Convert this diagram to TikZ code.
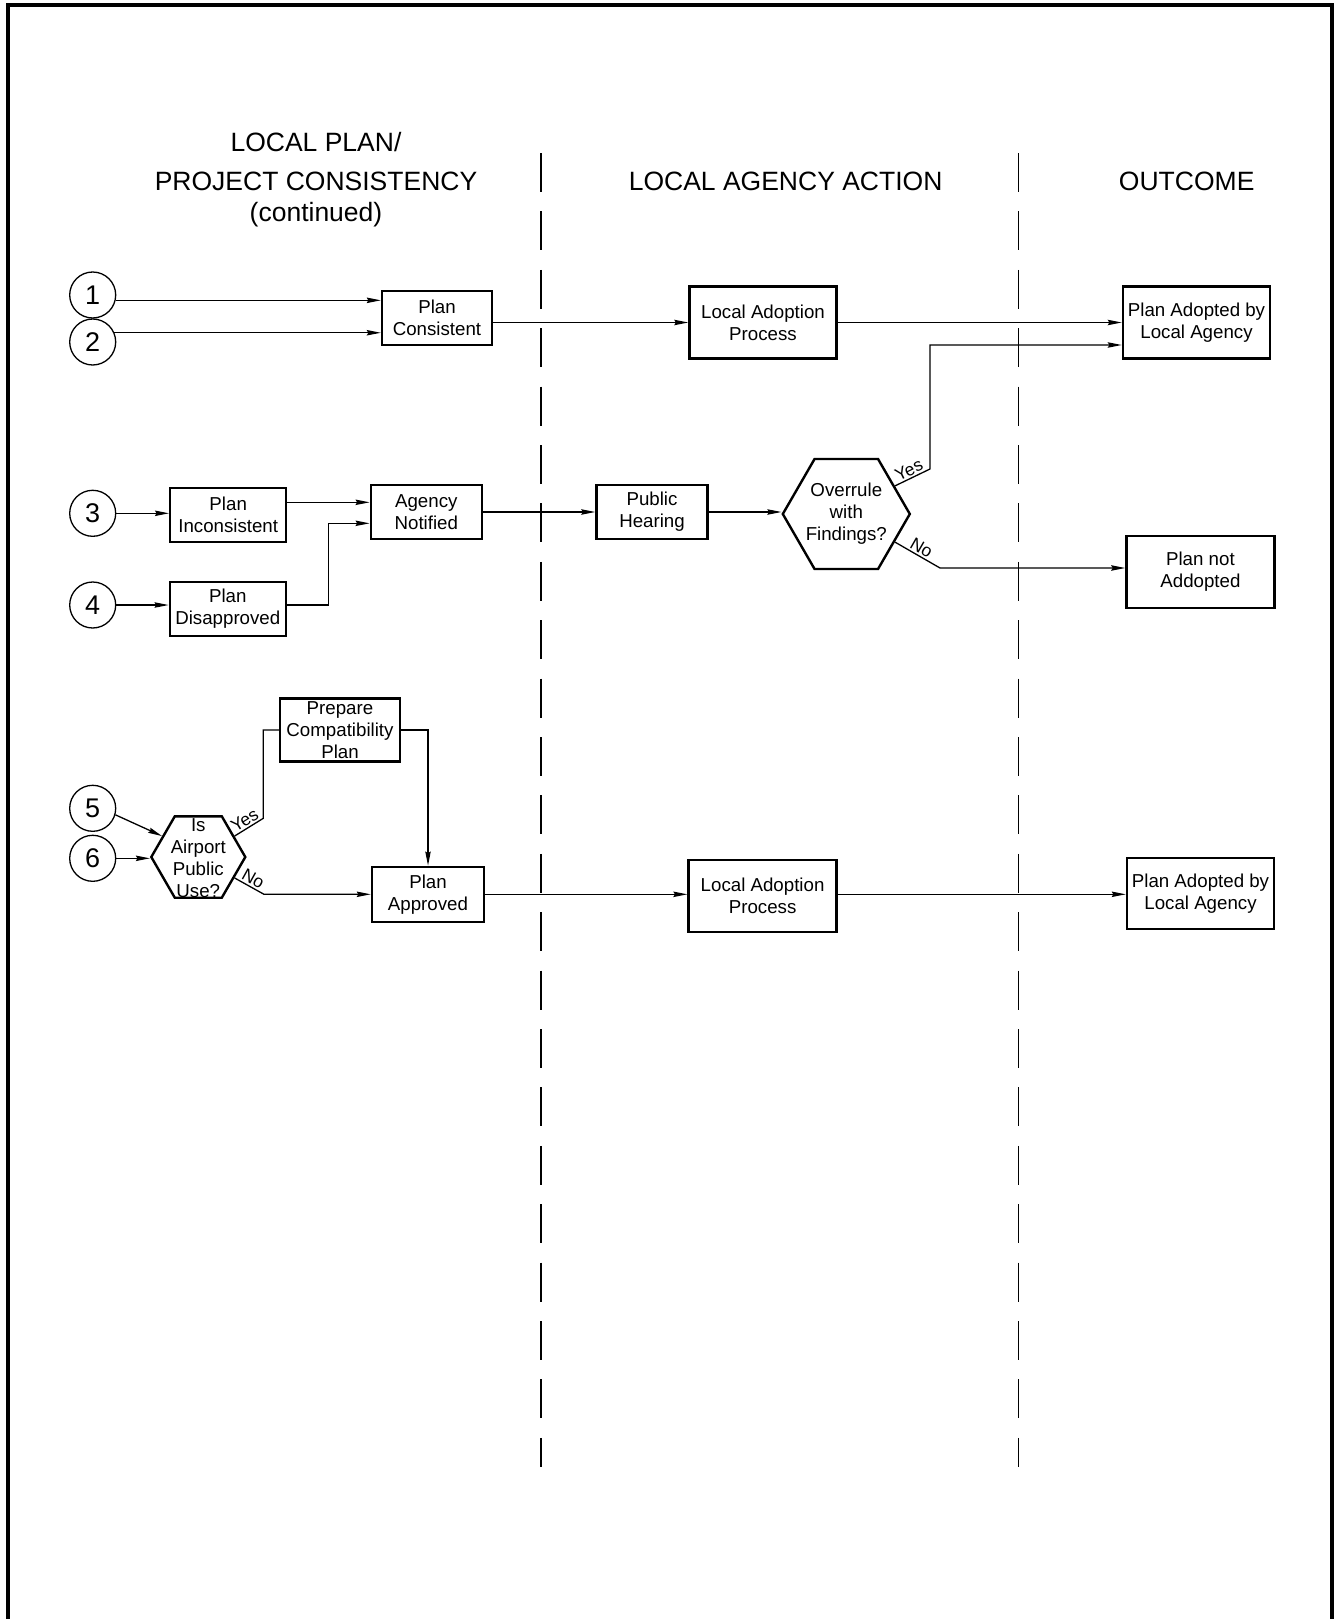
\documentclass[tikz,border=0pt]{standalone}
\usepackage{fontspec}
\setmainfont{Liberation Sans}
\usetikzlibrary{arrows.meta,shapes.geometric,calc}
\begin{document}
\begin{tikzpicture}[x=1pt,y=1pt,
  txt/.style={font=\fontsize{18.7}{22}\selectfont, align=center},
  box/.style={txt, draw, line width=2.4pt, inner sep=0pt},
  hexa/.style={draw, line width=2.4pt, regular polygon, regular polygon sides=6, inner sep=0pt},
  inp/.style={draw, circle, line width=1.3pt, minimum size=46pt, inner sep=0pt, font=\fontsize{27}{30}\selectfont},
  conn/.style={line width=1.3pt},
  arr/.style={conn, -{Stealth[length=14pt,width=5.4pt,inset=1.5pt]}},
  hdr/.style={font=\fontsize{26.5}{30}\selectfont, anchor=base, inner sep=0pt},
  lane/.style={line width=1.5pt, dash pattern=on 39pt off 19.4pt},
  lbl/.style={font=\fontsize{17.5}{20}\selectfont, inner sep=1.5pt, sloped, above, midway}
]
\useasboundingbox (0,0) rectangle (1343,-1619);
% frame
\draw[line width=4pt] (8,-1640) -- (8,-5.5) -- (1332,-5.5) -- (1332,-1640);

% headers
\node[hdr] (h1a) at (316,-151) {LOCAL PLAN/};
\node[hdr] (h1b) at (316,-190) {PROJECT CONSISTENCY};
\node[hdr] (h1c) at (316,-221) {(continued)};
\node[hdr] (h2) at (785.6,-190) {LOCAL AGENCY ACTION};
\node[hdr] (h3) at (1186.7,-190) {OUTCOME};

% lanes
\draw[lane] (541,-153) -- (541,-1467);
\draw[lane] (1018.7,-153) -- (1018.7,-1467);

% input circles
\node[inp] (c1) at (92.7,-295) {1};
\node[inp] (c2) at (92.7,-342) {2};
\node[inp] (c3) at (92.7,-513.3) {3};
\node[inp] (c4) at (92.7,-605) {4};
\node[inp] (c5) at (92.7,-808.3) {5};
\node[inp] (c6) at (92.7,-858.3) {6};

% boxes
\node[box, minimum width=110pt, minimum height=54pt] (pc) at (437,-318) {Plan\\Consistent};
\node[box, minimum width=147pt, minimum height=72pt] (lap1) at (763,-322.5) {Local Adoption\\Process};
\node[box, minimum width=147pt, minimum height=72pt] (pa1) at (1196.5,-322.5) {Plan Adopted by\\Local Agency};
\node[box, minimum width=116pt, minimum height=54pt] (pi) at (228.2,-515) {Plan\\Inconsistent};
\node[box, minimum width=116pt, minimum height=54pt] (pd) at (227.8,-609) {Plan\\Disapproved};
\node[box, minimum width=111pt, minimum height=54pt] (an) at (426.3,-512) {Agency\\Notified};
\node[box, minimum width=111pt, minimum height=54pt] (ph) at (652,-512) {Public\\Hearing};
\node[hexa, minimum size=127pt] (ov) at (846.3,-514) {};
\node[txt] (ovt) at (ov.center) {Overrule\\with\\Findings?};
\node[box, minimum width=148pt, minimum height=72pt] (pna) at (1200.4,-572) {Plan not\\Addopted};
\node[box, minimum width=120pt, minimum height=63pt] (pcp) at (340,-730) {Prepare\\Compatibility\\Plan};
\node[hexa, minimum size=94pt] (hx) at (198.3,-857) {};
\node[txt] (hxt) at ([yshift=-1pt]hx.center) {Is\\Airport\\Public\\Use?};
\node[box, minimum width=112pt, minimum height=55pt] (pap) at (428,-894.3) {Plan\\Approved};
\node[box, minimum width=148pt, minimum height=72pt] (lap2) at (762.6,-896) {Local Adoption\\Process};
\node[box, minimum width=147pt, minimum height=71pt] (pa2) at (1200.5,-893.5) {Plan Adopted by\\Local Agency};

% row 1
\draw[arr] (c1.-13) -- (c1.-13 -| pc.west);
\draw[arr] (c2.23) -- (c2.23 -| pc.west);
\draw[arr] (pc.east |- lap1.west) -- (lap1.west);
\draw[arr] (lap1.east) -- (pa1.west);

% row 2
\draw[arr] (c3.east) -- (c3.east -| pi.west);
\draw[arr] (c4.east) -- (c4.east -| pd.west);
\draw[arr] ([yshift=12.7pt]pi.east) -- ([yshift=12.7pt]pi.east -| an.west);
\coordinate (j4) at (328.3,-523.3);
\draw[arr] (c4.east -| pd.east) -| (j4) -- (j4 -| an.west);
\draw[arr] (an.east) -- (ph.west);
\draw[arr] (ph.east) -- (ph.east -| ov.west);
\coordinate (oy) at (930,-469);
\draw[arr] (ov.30) -- node[lbl]{Yes} (oy) |- ([yshift=-22.5pt]pa1.west);
\coordinate (on) at (940,-568);
\draw[arr] (ov.-30) -- node[lbl]{No} (on) -- (on -| pna.west);

% row 3
\draw[arr] (c5.-16) -- (hx.150);
\draw[arr] (c6.east) -- (c6.east -| hx.west);
\coordinate (hy) at (263.3,-818.3);
\draw[conn] (hx.30) -- node[lbl]{Yes} (hy) |- (pcp.west);
\draw[arr] (pcp.east) -| (pap.north);
\coordinate (hn) at (264,-894.3);
\draw[arr] (hx.-30) -- node[lbl]{No} (hn) -- (hn -| pap.west);
\draw[arr] (pap.east) -- (pap.east -| lap2.west);
\draw[arr] (lap2.east |- pap.east) -- (pa2.west |- pap.east);
\end{tikzpicture}
\end{document}
